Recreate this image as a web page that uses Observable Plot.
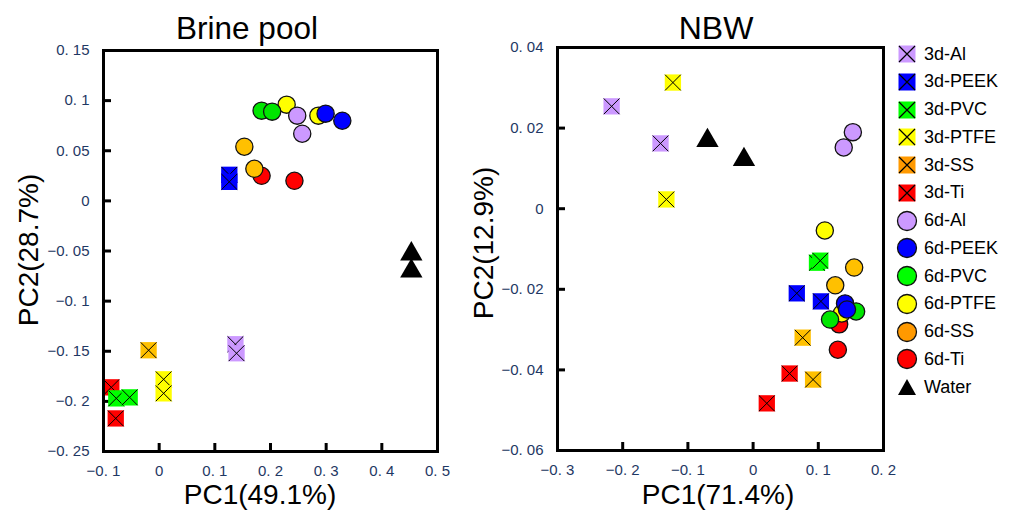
<!DOCTYPE html>
<html>
<head>
<meta charset="utf-8">
<script src="https://cdn.jsdelivr.net/npm/d3@7"></script>
<script src="https://cdn.jsdelivr.net/npm/@observablehq/plot@0.6"></script>
<style>
  body { margin: 0; background: #fff; }
  #wrap { position: relative; width: 1014px; height: 512px; background: #fff; font-family: "Liberation Sans", Arial, sans-serif; overflow: hidden; }
  #left, #right, #legend, #overlay { position: absolute; }
  #left { left: 0; top: 0; }
  #right { left: 460px; top: 0; }
  #overlay { left: 0; top: 0; pointer-events: none; }
  #legend { left: 896px; top: 40px; }
  .lrow { position: absolute; left: 0; height: 28px; display: flex; align-items: center; font-size: 18px; color: #000; white-space: nowrap; }
  .lrow svg { margin-right: 6px; }
</style>
</head>
<body>
<div id="wrap">
  <div id="left"></div>
  <div id="right"></div>
  <svg id="overlay" width="1014" height="512"></svg>
  <div id="legend"></div>
</div>
<script>
// ---------- data ----------
const groups = ["3d-Al","3d-PEEK","3d-PVC","3d-PTFE","3d-SS","3d-Ti","6d-Al","6d-PEEK","6d-PVC","6d-PTFE","6d-SS","6d-Ti","Water"];
const shapes = ["square","square","square","square","square","square","circle","circle","circle","circle","circle","circle","triangle"];
const pointColors = ["#cc99ff","#0000ff","#00ff00","#ffff00","#ffc000","#ff0000","#cc99ff","#0000ff","#00e600","#ffff00","#ffc000","#ff0000","#000000"];
const legendColors = ["#cc99ff","#0000ff","#00ff00","#ffff00","#ff9900","#ff0000","#cc99ff","#0000ff","#00ff00","#ffff00","#ff9900","#ff0000","#000000"];
// drawing order (later = on top)
const drawOrder = ["3d-Ti","3d-PVC","3d-SS","3d-PTFE","3d-Al","3d-PEEK","6d-Ti","6d-PTFE","6d-SS","6d-Al","6d-PVC","6d-PEEK","Water"];

// Brine pool: PC1 / PC2 per group (same order as groups)
const brinePC1 = [[0.137,0.139],[0.126,0.126],[-0.077,-0.053],[0.008,0.008],[-0.019],[-0.086,-0.078],
                  [0.248,0.257],[0.299,0.329],[0.184,0.203],[0.229,0.286],[0.153,0.171],[0.184,0.243],[0.453,0.453]];
const brinePC2 = [[-0.143,-0.152],[0.026,0.019],[-0.197,-0.196],[-0.178,-0.192],[-0.149],[-0.186,-0.217],
                  [0.085,0.067],[0.087,0.080],[0.090,0.089],[0.096,0.085],[0.054,0.032],[0.025,0.020],[-0.053,-0.070]];
// NBW
const nbwPC1 = [[-0.217,-0.142],[0.067,0.104],[0.098,0.103],[-0.123,-0.133],[0.076,0.092],[0.056,0.021],
                [0.153,0.139],[0.141,0.144],[0.158,0.118],[0.110,0.136],[0.155,0.126],[0.132,0.130],[-0.070,-0.014]];
const nbwPC2 = [[0.0254,0.0162],[-0.021,-0.023],[-0.0134,-0.0129],[0.0313,0.0023],[-0.032,-0.0424],[-0.0409,-0.0483],
                [0.019,0.0152],[-0.0235,-0.025],[-0.0255,-0.0275],[-0.0054,-0.026],[-0.0146,-0.019],[-0.0287,-0.035],[0.0169,0.0122]];

const brineXDomain = [-0.1, 0.5];
const brineYDomain = [-0.25, 0.15];
const brineXTicks = [-0.1, 0, 0.1, 0.2, 0.3, 0.4, 0.5];
const brineYTicks = [0.15, 0.1, 0.05, 0, -0.05, -0.1, -0.15, -0.2, -0.25];
const nbwXDomain = [-0.3, 0.2];
const nbwYDomain = [-0.06, 0.04];
const nbwXTicks = [-0.3, -0.2, -0.1, 0, 0.1, 0.2];
const nbwYTicks = [0.04, 0.02, 0, -0.02, -0.04, -0.06];

const titles = ["Brine pool", "NBW"];
const xLabels = ["PC1(49.1%)", "PC1(71.4%)"];
const yLabels = ["PC2(28.7%)", "PC2(12.9%)"];

// ---------- helpers ----------
function rowsFor(pc1, pc2) {
  const rows = [];
  drawOrder.forEach(g => {
    const i = groups.indexOf(g);
    pc1[i].forEach((x, j) => rows.push({group: g, x, y: pc2[i][j], shape: shapes[i], color: pointColors[i]}));
  });
  return rows;
}
const fmt = d => d === 0 ? "0" : (d < 0 ? "\u2212" : "") + String(Math.abs(d)).replace(".", ". ");
const tickColor = "#1f3864";

function panel({pc1, pc2, xDomain, yDomain, xTicks, yTicks, width, height, ml, mr, mt, mb}) {
  const rows = rowsFor(pc1, pc2);
  const fw = width - ml - mr, fh = height - mt - mb;
  const innerX = xTicks.slice(1, -1), innerY = yTicks.slice(1, -1);
  const marks = [];
  rows.forEach(r => {
    if (r.shape === "square") {
      marks.push(Plot.dot([r], {x: "x", y: "y", symbol: "square", r: 9.2, fill: "color", stroke: null}));
      marks.push(Plot.dot([r], {x: "x", y: "y", symbol: "times", r: 7.2, stroke: "#000", strokeWidth: 1}));
    } else if (r.shape === "circle") {
      marks.push(Plot.dot([r], {x: "x", y: "y", symbol: "circle", r: 8.6, fill: "color", stroke: "#111", strokeWidth: 1.3}));
    } else {
      marks.push(Plot.dot([r], {x: "x", y: "y", symbol: "triangle", r: 8.3, fill: "#000", stroke: null}));
    }
  });
  return Plot.plot({
    width, height,
    marginLeft: ml, marginRight: mr, marginTop: mt, marginBottom: mb,
    x: {domain: xDomain},
    y: {domain: yDomain},
    color: {type: "identity"},
    style: {fontFamily: "'Liberation Sans', Arial, sans-serif", color: tickColor, background: "transparent", overflow: "visible"},
    marks: [
      Plot.axisX({ticks: xTicks, tickFormat: fmt, tickSize: 0, tickPadding: 14, fontSize: 15, label: null}),
      Plot.axisY({ticks: yTicks, tickFormat: fmt, tickSize: 0, tickPadding: 14, fontSize: 15, label: null}),
      Plot.tickX(innerX, {x: d => d, insetTop: fh - 8, stroke: "#000", strokeWidth: 3}),
      Plot.tickY(innerY, {y: d => d, insetRight: fw - 8, stroke: "#000", strokeWidth: 3}),
      ...marks,
      Plot.frame({stroke: "#000", strokeWidth: 3})
    ]
  });
}

document.getElementById("left").appendChild(panel({
  pc1: brinePC1, pc2: brinePC2, xDomain: brineXDomain, yDomain: brineYDomain,
  xTicks: brineXTicks, yTicks: brineYTicks,
  width: 460, height: 512, ml: 103, mr: 23, mt: 50, mb: 61
}));
document.getElementById("right").appendChild(panel({
  pc1: nbwPC1, pc2: nbwPC2, xDomain: nbwXDomain, yDomain: nbwYDomain,
  xTicks: nbwXTicks, yTicks: nbwYTicks,
  width: 440, height: 512, ml: 97, mr: 17, mt: 47, mb: 62
}));

// ---------- titles and axis labels ----------
const ov = d3.select("#overlay").style("font-family", "'Liberation Sans', Arial, sans-serif");
const titleX = [247, 716], xLabX = [260, 718], yLabX = [38, 493], yLabY = [250, 243], titleSize = [31.5, 32];
titles.forEach((t, i) => ov.append("text").attr("x", titleX[i]).attr("y", 39).attr("text-anchor", "middle").attr("font-size", titleSize[i]).text(t));
xLabels.forEach((t, i) => ov.append("text").attr("x", xLabX[i]).attr("y", 504).attr("text-anchor", "middle").attr("font-size", 28).text(t));
yLabels.forEach((t, i) => ov.append("text").attr("transform", `translate(${yLabX[i]},${yLabY[i]}) rotate(-90)`).attr("text-anchor", "middle").attr("font-size", 28).text(t));

// ---------- legend ----------
const legend = d3.select("#legend");
groups.forEach((g, i) => {
  const row = legend.append("div").attr("class", "lrow").style("top", (i * 27.75) + "px");
  const s = row.append("svg").attr("width", 22).attr("height", 22);
  if (shapes[i] === "square") {
    s.append("rect").attr("x", 2.5).attr("y", 2.5).attr("width", 17).attr("height", 17).attr("fill", legendColors[i]);
    s.append("path").attr("d", "M3,3L19,19M19,3L3,19").attr("stroke", "#000").attr("stroke-width", 1.2);
  } else if (shapes[i] === "circle") {
    s.append("circle").attr("cx", 11).attr("cy", 11).attr("r", 9.5).attr("fill", legendColors[i]).attr("stroke", "#111").attr("stroke-width", 1.3);
  } else {
    s.append("path").attr("d", "M11,3L20,19L2,19Z").attr("fill", "#000");
  }
  row.append("span").text(g);
});
</script>
</body>
</html>
